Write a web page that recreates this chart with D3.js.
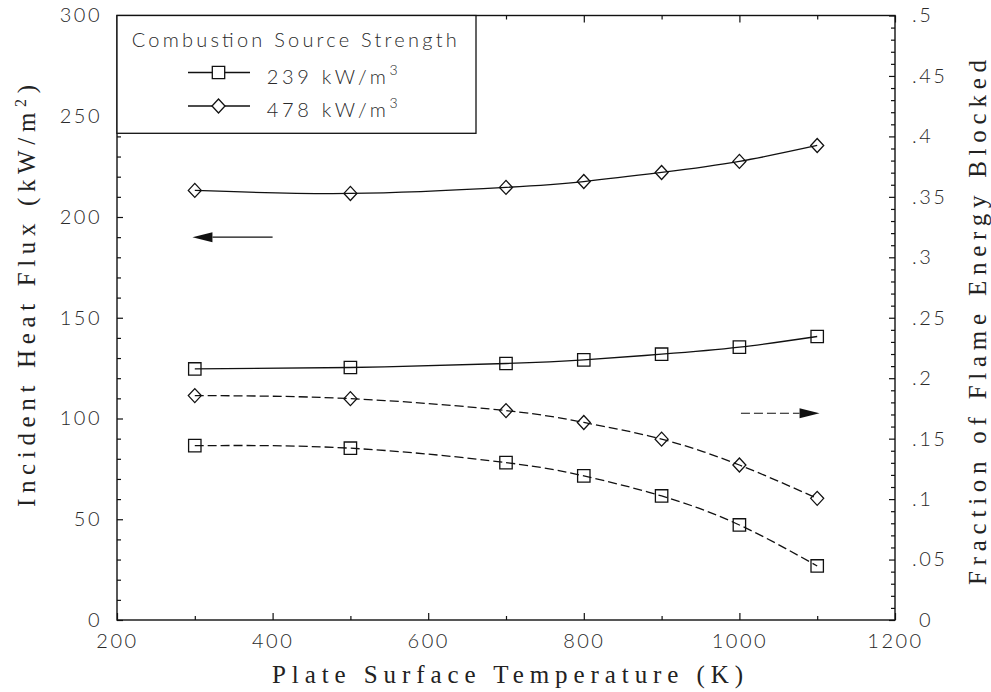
<!DOCTYPE html>
<html><head><meta charset="utf-8">
<script src="https://cdn.jsdelivr.net/npm/d3@7"></script>
<style>
html,body{margin:0;padding:0;background:#fff;}
svg{display:block;}
.ttl{font-family:"Liberation Serif","DejaVu Serif","Times New Roman",Times,serif;}
</style></head>
<body>
<svg id="chart" width="991" height="692"></svg>
<script>
// ---- data ----
const temps = [300, 500, 700, 800, 900, 1000, 1100];
const flux239 = [124.6, 125.3, 127.3, 129.1, 131.9, 135.4, 140.7];
const flux478 = [213.2, 211.7, 214.7, 217.6, 222.1, 227.6, 235.5];
const frac239 = [0.1442, 0.1421, 0.1302, 0.1192, 0.1026, 0.0786, 0.0447];
const frac478 = [0.1856, 0.1831, 0.1732, 0.1634, 0.1496, 0.1282, 0.1006];
const xTicks = [200, 400, 600, 800, 1000, 1200];
const xMinor = [300, 500, 700, 900, 1100];
const yLeftTicks = [0, 50, 100, 150, 200, 250, 300];
const yRightTicks = [0, 0.05, 0.1, 0.15, 0.2, 0.25, 0.3, 0.35, 0.4, 0.45, 0.5];
const legendTitle = "Combustion Source Strength";
const legendLabels = ["239", "478"];
const arrowLeft = {from: 400, to: 297, y: 190};     // points to left axis
const arrowRight = {from: 1002, to: 1103, y: 0.171}; // points to right axis

// ---- layout ----
const L = 117, R = 895, T = 15.5, B = 620;
const svg = d3.select("#chart");
const x = d3.scaleLinear().domain([200, 1200]).range([L, R]);
const yL = d3.scaleLinear().domain([0, 300]).range([B, T]);
const yR = d3.scaleLinear().domain([0, 0.5]).range([B, T]);

const tickFont = "Lato, 'Liberation Sans', Arial, sans-serif";
const ink = "#111";

function styleAxis(g) {
  g.select(".domain").remove();
  g.selectAll(".tick line").attr("stroke", ink).attr("stroke-width", 1.2);
  g.selectAll("text").attr("font-family", tickFont).attr("font-size", 20)
    .attr("font-weight", 300).attr("fill", "#2a2a2a").attr("letter-spacing", 2.5);
}

// bottom axis
svg.append("g").attr("transform", `translate(0,${B})`)
  .call(d3.axisBottom(x).tickValues(xTicks).tickSizeInner(-7).tickSizeOuter(0).tickPadding(14).tickFormat(d3.format("d")))
  .call(styleAxis);
svg.append("g").attr("transform", `translate(0,${B})`)
  .call(d3.axisBottom(x).tickValues(xMinor).tickSizeInner(-4).tickSizeOuter(0).tickFormat(""))
  .call(styleAxis);
// top axis (ticks only)
svg.append("g").attr("transform", `translate(0,${T})`)
  .call(d3.axisTop(x).tickValues(xTicks).tickSizeInner(-7).tickSizeOuter(0).tickFormat(""))
  .call(styleAxis);
svg.append("g").attr("transform", `translate(0,${T})`)
  .call(d3.axisTop(x).tickValues(xMinor).tickSizeInner(-4).tickSizeOuter(0).tickFormat(""))
  .call(styleAxis);

// left axis
const yLMinor = d3.range(0, 301, 10).filter(v => v % 50 !== 0);
svg.append("g").attr("transform", `translate(${L},0)`)
  .call(d3.axisLeft(yL).tickValues(yLeftTicks).tickSizeInner(-6).tickSizeOuter(0).tickPadding(15).tickFormat(d3.format("d")))
  .call(styleAxis);
svg.append("g").attr("transform", `translate(${L},0)`)
  .call(d3.axisLeft(yL).tickValues(yLMinor).tickSizeInner(-4).tickSizeOuter(0).tickFormat(""))
  .call(styleAxis);

// right axis
const yRMinor = d3.range(0, 51, 1).filter(v => v % 5 !== 0).map(v => v / 100);
const fmtR = d => d === 0 ? "0" : d3.format(".2~f")(d).replace(/^0/, "");
const gR = svg.append("g").attr("transform", `translate(${R},0)`)
  .call(d3.axisRight(yR).tickValues(yRightTicks).tickSizeInner(-6).tickSizeOuter(0).tickPadding(17).tickFormat(fmtR))
  .call(styleAxis);
gR.selectAll(".tick text").filter(d => d === 0).attr("x", 24);
svg.append("g").attr("transform", `translate(${R},0)`)
  .call(d3.axisRight(yR).tickValues(yRMinor).tickSizeInner(-4).tickSizeOuter(0).tickFormat(""))
  .call(styleAxis);

// frame
svg.append("rect").attr("x", L).attr("y", T).attr("width", R - L).attr("height", B - T)
  .attr("fill", "none").attr("stroke", ink).attr("stroke-width", 1.4);

// ---- series ----
const series = [
  {vals: flux239, scale: yL, marker: "square", dash: null},
  {vals: flux478, scale: yL, marker: "diamond", dash: null},
  {vals: frac239, scale: yR, marker: "square", dash: "9,4"},
  {vals: frac478, scale: yR, marker: "diamond", dash: "9,4"}
];
function markerPath(type, cx, cy) {
  if (type === "square") {
    const h = 6.2;
    return `M${cx - h},${cy - h}H${cx + h}V${cy + h}H${cx - h}Z`;
  }
  const w = 6.5, hh = 7;
  return `M${cx},${cy - hh}L${cx + w},${cy}L${cx},${cy + hh}L${cx - w},${cy}Z`;
}
series.forEach(s => {
  const pts = temps.map((t, i) => [t, s.vals[i]]);
  const line = d3.line().x(d => x(d[0])).y(d => s.scale(d[1])).curve(d3.curveNatural);
  svg.append("path").attr("d", line(pts)).attr("fill", "none").attr("stroke", ink)
    .attr("stroke-width", 1.3).attr("stroke-dasharray", s.dash);
  svg.append("g").selectAll("path").data(pts).join("path")
    .attr("d", d => markerPath(s.marker, x(d[0]), s.scale(d[1])))
    .attr("fill", "none").attr("stroke", ink).attr("stroke-width", 1.3);
});

// ---- arrows ----
function arrow(a, scale, dash) {
  const y0 = scale(a.y), xs = x(a.from), xt = x(a.to);
  const dir = Math.sign(xt - xs), headLen = 20, hw = 5;
  const xb = xt - dir * headLen;
  svg.append("line").attr("x1", xs).attr("x2", xb).attr("y1", y0).attr("y2", y0)
    .attr("stroke", ink).attr("stroke-width", 1.2).attr("stroke-dasharray", dash);
  svg.append("path").attr("d", `M${xt},${y0}L${xb},${y0 - hw}L${xb},${y0 + hw}Z`).attr("fill", ink);
}
arrow(arrowLeft, yL, null);
arrow(arrowRight, yR, "9,4");

// ---- legend ----
const lg = svg.append("g");
lg.append("rect").attr("x", L).attr("y", T).attr("width", 476 - L).attr("height", 133.3 - T)
  .attr("fill", "#fff").attr("stroke", ink).attr("stroke-width", 1.3);
lg.append("text").attr("x", 131.7).attr("y", 46.7).attr("textLength", 325).attr("lengthAdjust", "spacing")
  .attr("font-family", tickFont).attr("font-size", 20).attr("font-weight", 300).attr("fill", "#2a2a2a")
  .text(legendTitle);
const rowsY = [72.5, 106];
["square", "diamond"].forEach((m, i) => {
  const cy = rowsY[i];
  lg.append("line").attr("x1", 188).attr("x2", 250).attr("y1", cy).attr("y2", cy)
    .attr("stroke", ink).attr("stroke-width", 1.3);
  lg.append("path").attr("d", markerPath(m, 218.5, cy)).attr("fill", "#fff").attr("stroke", ink).attr("stroke-width", 1.3);
  const t = lg.append("text").attr("x", 266.7).attr("y", cy + 11)
    .attr("font-family", tickFont).attr("font-size", 20).attr("font-weight", 300).attr("fill", "#2a2a2a")
    .attr("textLength", 131).attr("lengthAdjust", "spacing");
  t.append("tspan").text(legendLabels[i] + "  kW/m");
  t.append("tspan").attr("dy", -9).attr("font-size", 14).text("3");
});

// ---- axis titles ----
svg.append("text").attr("class", "ttl").attr("x", 507.5).attr("y", 683).attr("text-anchor", "middle")
  .style("font-size", "25px").attr("fill", "#222")
  .attr("textLength", 471).attr("lengthAdjust", "spacing")
  .text("Plate Surface Temperature (K)");

const lt = svg.append("text").attr("class", "ttl").attr("transform", "translate(35,296) rotate(-90)").attr("text-anchor", "middle")
  .style("font-size", "25px").attr("fill", "#222")
  .attr("textLength", 422).attr("lengthAdjust", "spacing");
lt.append("tspan").text("Incident Heat Flux (kW/m");
lt.append("tspan").attr("dy", -9).style("font-size", "16px").text("2");
lt.append("tspan").attr("dy", 9).text(")");

svg.append("text").attr("class", "ttl").attr("transform", "translate(986,322.5) rotate(-90)").attr("text-anchor", "middle")
  .style("font-size", "25px").attr("fill", "#222")
  .attr("textLength", 525).attr("lengthAdjust", "spacing")
  .text("Fraction of Flame Energy Blocked");
</script>
</body></html>
